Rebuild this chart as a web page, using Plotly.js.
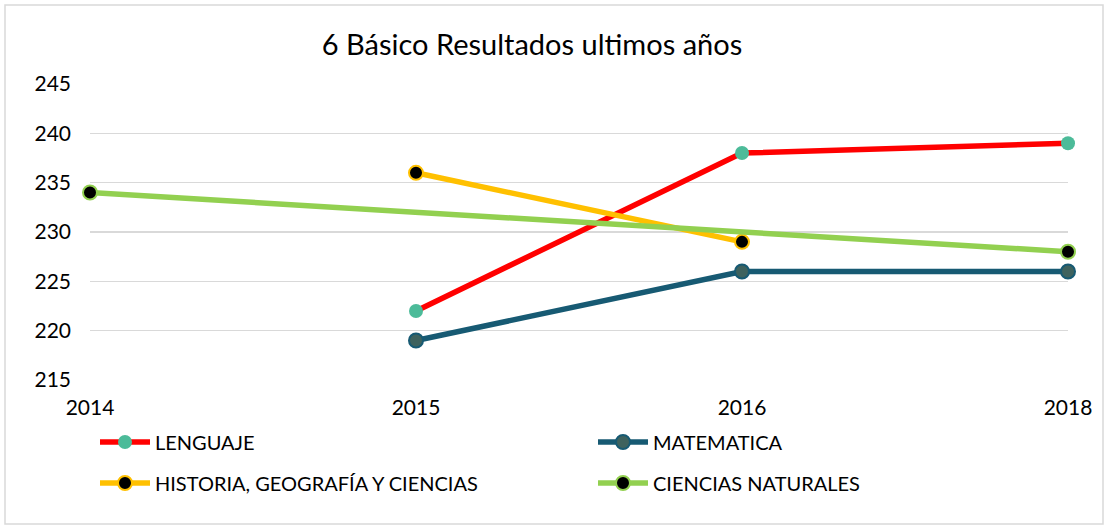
<!DOCTYPE html>
<html>
<head>
<meta charset="utf-8">
<script src="https://cdn.plot.ly/plotly-3.0.1.min.js"></script>
<style>html,body{margin:0;padding:0;background:#fff;}#chart{width:1109px;height:527px;}</style>
</head>
<body>
<div id="chart"></div>
<script>
const years = ["2014", "2015", "2016", "2018"];
const lenguaje = [null, 222, 238, 239];
const matematica = [null, 219, 226, 226];
const historia = [null, 236, 229, null];
const cienciasNaturales = [234, null, null, 228];
const seriesNames = ["LENGUAJE", "MATEMATICA", "HISTORIA, GEOGRAFÍA Y CIENCIAS", "CIENCIAS NATURALES"];

const FONT = "Lato, 'Open Sans', sans-serif";

function tr(name, y, lineColor, mFill, mLine, mLineW, legend) {
  return {
    type: "scatter", mode: "lines+markers", name: name, x: years, y: y,
    connectgaps: true, cliponaxis: false, legend: legend,
    line: {color: lineColor, width: 5.5},
    marker: {size: 14, color: mFill, line: {color: mLine, width: mLineW}}
  };
}

const data = [
  tr(seriesNames[0], lenguaje, "#FF0000", "#4CBB99", "#4CBB99", 0, "legend"),
  tr(seriesNames[1], matematica, "#175A73", "#3E625E", "#175A73", 2, "legend2"),
  tr(seriesNames[2], historia, "#FFC000", "#000000", "#FFC000", 2, "legend3"),
  tr(seriesNames[3], cienciasNaturales, "#92D050", "#000000", "#92D050", 2, "legend4")
];

function leg(px, py) {
  return {
    orientation: "h", xref: "container", yref: "container",
    xanchor: "left", yanchor: "middle", x: px/1109, y: 1 - py/527,
    font: {family: FONT, size: 20, color: "#000"},
    itemwidth: 50, bgcolor: "rgba(0,0,0,0)"
  };
}

const layout = {
  width: 1109, height: 527, autosize: false,
  margin: {l: 90, r: 41, t: 84, b: 147, pad: 0},
  paper_bgcolor: "#fff", plot_bgcolor: "#fff",
  font: {family: FONT, color: "#000"},
  title: {text: "6 Básico Resultados ultimos años", font: {family: FONT, size: 29, color: "#000"},
          xref: "container", yref: "container", x: 532/1109, xanchor: "center", y: 1 - 45/527, yanchor: "middle"},
  xaxis: {type: "category", categoryorder: "array", categoryarray: years, range: [0, 3],
          showgrid: false, zeroline: false, showline: false, ticks: "",
          tickfont: {family: FONT, size: 21, color: "#000"}, ticklabelstandoff: 13},
  yaxis: {range: [215, 245], dtick: 5, tick0: 215, showgrid: true, gridcolor: "#D9D9D9", gridwidth: 1.3,
          zeroline: false, showline: false, ticks: "",
          tickfont: {family: FONT, size: 21, color: "#000"}, ticklabelstandoff: 18},
  legend: leg(95, 442),
  legend2: leg(593, 442),
  legend3: leg(95, 483),
  legend4: leg(593, 483),
  shapes: [{type: "rect", xref: "paper", yref: "paper",
            x0: (5 - 90)/978, x1: (1103 - 90)/978, y0: (380 - 524)/296, y1: (380 - 5)/296,
            line: {color: "#D9D9D9", width: 1.5}, fillcolor: "rgba(0,0,0,0)", layer: "below"}],
  showlegend: true
};

Plotly.newPlot("chart", data, layout, {displayModeBar: false, staticPlot: true});
</script>
</body>
</html>
